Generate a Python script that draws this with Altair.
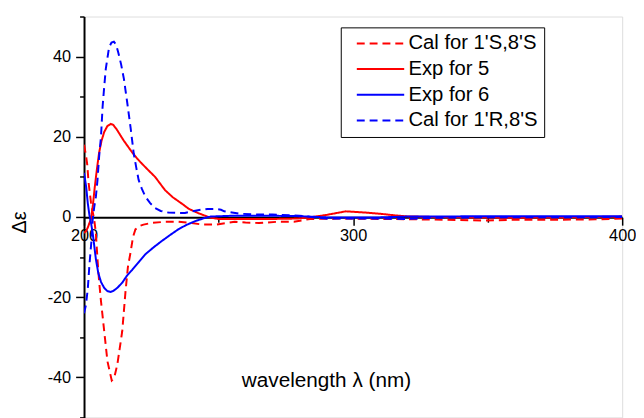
import altair as alt
import pandas as pd

# ---- data ----
series_names = ["Cal for 1'S,8'S", "Exp for 5", "Exp for 6", "Cal for 1'R,8'S"]
series_colors = ["#FF0000", "#FF0000", "#0000FF", "#0000FF"]
series_dash = [[8, 5], [1, 0], [1, 0], [8, 5]]

cal_s_x = [200, 200.7, 201.2, 201.7, 202.6, 203.3, 203.8, 204.4, 205, 205.6, 206.3, 207.5, 208.7,
           210.3, 211.2, 212.4, 214.2, 215.4, 216.3, 217.3, 218.2, 219.1, 220.5, 222.1, 225, 230,
           235, 240, 244, 249, 253, 256, 260, 265, 272, 278, 284, 295, 310, 325, 335, 349, 360,
           375, 390, 400]
cal_s_y = [18, 15.5, 13, 8.5, 3.5, 1, -0.7, -4, -10.5, -16, -21, -28.5, -36,
           -40.8, -40.2, -36.7, -28.5, -18.7, -12.5, -8.8, -5, -3.1, -2.3, -1.9, -1.5, -1.2,
           -1.2, -1.5, -1.9, -1.9, -1.5, -1.2, -1.4, -1.5, -1.2, -1.2, -0.5, -0.4, -0.5, -0.6,
           -0.7, -0.9, -0.7, -0.7, -0.6, -0.4]

exp5_x = [200, 200.8, 201.5, 202, 202.6, 203.3, 204, 204.8, 205.6, 206.5, 207.5, 208.7, 209.9,
          210.8, 212, 213.3, 214.8, 216.3, 217.9, 219.7, 221.5, 224, 226.4, 228.3, 230.1, 233,
          236.2, 239, 242.3, 246.6, 250, 260, 270, 279, 284, 290, 297.3, 304.6, 310, 315.6, 320,
          330, 340, 360, 380, 400]
exp5_y = [-4, -3.5, -2.5, -1.5, -0.5, 3, 7.5, 12, 16, 19, 21.2, 22.7, 23.2,
          23, 22, 20.6, 19, 17.6, 16.1, 14.6, 13.3, 11.6, 10, 8.3, 6.7, 4.9,
          3.4, 2.0, 1.0, -0.1, -0.5, -0.5, -0.5, -0.4, -0.1, 0.5, 1.4, 1.1, 0.8, 0.4, 0.15,
          0, -0.1, -0.2, -0.1, 0.1]

exp6_x = [200, 200.8, 201.4, 202, 202.6, 203.2, 204.4, 205.3, 206.3, 207.5, 208.7, 209.9, 211,
          212.5, 214.2, 216, 217.9, 220.3, 222.8, 225.8, 228.9, 232, 235, 238, 241.1, 244.8,
          247, 255, 270, 280, 290, 300, 310, 320, 340, 360, 380, 400]
exp6_y = [11, 7.5, 3.4, 0.5, -1.5, -3.9, -10.5, -14, -16.2, -17.7, -18.5, -18.7, -18.4,
          -17.6, -16.4, -14.6, -13.2, -11.3, -9.3, -7.6, -6, -4.5, -3.1, -2, -1.1, -0.25,
          0.1, 0.3, 0.3, 0.2, -0.1, -0.15, -0.1, 0.1, 0.15, 0.15, 0.15, 0.2]

cal_r_x = [200, 200.7, 201.4, 202, 202.8, 203.2, 203.8, 204.4, 205, 205.6, 206.3, 206.9, 207.5,
           208.1, 209.3, 210.2, 211.1, 211.9, 212.7, 213.8, 214.8, 216, 217.3, 218.5, 219.5,
           220.3, 221.5, 222.8, 224.5, 226.4, 228.5, 231.3, 235, 237.5, 240, 243.5, 246, 249,
           250.9, 252.1, 255, 258.2, 264.9, 270, 280, 290, 300, 310, 320, 330, 345, 360, 380, 400]
cal_r_y = [-24, -22, -17.9, -12, -5.6, -0.7, 2.5, 5, 9.2, 15, 20, 27.5, 32.5,
           37, 42.3, 43.5, 43.7, 43, 41.1, 38, 34.5, 28.8, 22.3, 15.7, 12,
           9.2, 7, 5.1, 3.5, 2.2, 1.5, 1.1, 1, 1, 1.4, 1.8, 2.0, 2.0,
           1.8, 1.4, 1.1, 0.8, 0.6, 0.6, 0.3, -0.4, -0.4, -0.4, -0.5, -0.2, -0.1, -0.1, -0.1, 0]

x_ticks = [200, 250, 300, 350, 400]
y_ticks = [-50, -40, -30, -20, -10, 0, 10, 20, 30, 40, 50]

# ---- build table ----
frames = []
for name, xs, ys in zip(series_names,
                        [cal_s_x, exp5_x, exp6_x, cal_r_x],
                        [cal_s_y, exp5_y, exp6_y, cal_r_y]):
    frames.append(pd.DataFrame({"series": name, "wl": xs, "de": ys}))
df = pd.concat(frames, ignore_index=True)

W = 545
H = 406
zero_px = 203.3
FONT = "Liberation Sans"

x_axis = alt.Axis(
    values=x_ticks,
    labelExpr="datum.value % 100 == 0 ? '' + datum.value : ''",
    tickSize={"condition": {"test": "datum.value % 100 == 0", "value": 8}, "value": 5},
    offset=-(H - zero_px),
    grid=False,
    domainColor="black", domainWidth=2,
    tickColor="black", tickWidth=1.5,
    labelFont=FONT, labelFontSize=16.5, labelColor="black", labelPadding=3,
    labelFlush=False, labelOverlap=False,
    title="wavelength λ (nm)",
    titleFont=FONT, titleFontSize=21, titleFontWeight="normal", titleColor="black",
    titleX=245, titleY=171, titleAlign="center", titleBaseline="alphabetic",
)

y_axis = alt.Axis(
    values=y_ticks,
    labelExpr="datum.value % 20 == 0 ? '' + datum.value : ''",
    tickSize={"condition": {"test": "datum.value % 20 == 0", "value": 8.5}, "value": 4.5},
    grid=False,
    domainColor="black", domainWidth=2,
    tickColor="black", tickWidth=1.5,
    labelFont=FONT, labelFontSize=16.5, labelColor="black", labelPadding=5,
    labelFlush=False, labelOverlap=False,
    title="Δε",
    titleFont=FONT, titleFontSize=20, titleFontWeight="normal", titleColor="black",
    titleX=-65, titleY=208, titleAngle=270, titleAlign="center", titleBaseline="middle",
)

legend = alt.Legend(
    title=None, orient="none", legendX=260, legendY=11,
    symbolType="M-1,0H15", symbolSize=36, symbolStrokeWidth=2, symbolOffset=3,
    labelFont=FONT, labelFontSize=20.5, labelColor="black", labelOffset=39,
    rowPadding=5, padding=6, strokeColor="black", fillColor="white",
)

chart = alt.Chart(df).mark_line(strokeWidth=2, clip=True).encode(
    x=alt.X("wl:Q", scale=alt.Scale(domain=[200, 400], nice=False, zero=False), axis=x_axis),
    y=alt.Y("de:Q", scale=alt.Scale(domain=[-50, 50], nice=False), axis=y_axis),
    color=alt.Color("series:N", scale=alt.Scale(domain=series_names, range=series_colors),
                    sort=series_names, legend=legend),
    strokeDash=alt.StrokeDash("series:N", scale=alt.Scale(domain=series_names, range=series_dash),
                              sort=series_names, legend=legend),
    detail="series:N",
).properties(
    width=W, height=H,
    autosize=alt.AutoSizeParams(type="none"),
    padding={"left": 77, "top": 6, "right": 14, "bottom": 0},
).configure_view(stroke=None).configure(background="white")

chart.save("out.html", embed_options={"renderer": "svg", "actions": False})
